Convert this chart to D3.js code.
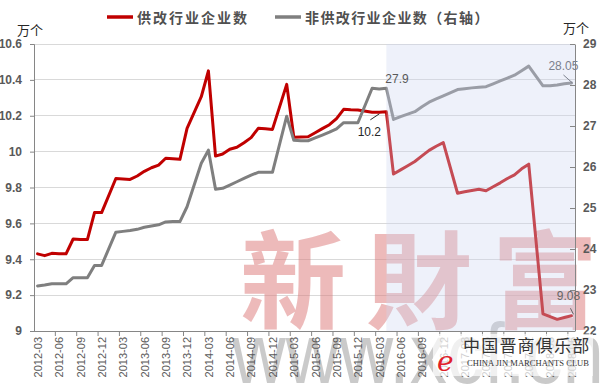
<!DOCTYPE html>
<html><head><meta charset="utf-8">
<script src="https://cdn.jsdelivr.net/npm/d3@7"></script>
<style>body{margin:0;background:#fff}svg{display:block}</style>
</head><body><svg id="c" width="602" height="386"></svg>
<script>
// ---- data ----
const months = [
"2012-03","2012-04","2012-05","2012-06","2012-07","2012-08","2012-09","2012-10","2012-11","2012-12",
"2013-01","2013-02","2013-03","2013-04","2013-05","2013-06","2013-07","2013-08","2013-09","2013-10","2013-11","2013-12",
"2014-01","2014-02","2014-03","2014-04","2014-05","2014-06","2014-07","2014-08","2014-09","2014-10","2014-11","2014-12",
"2015-01","2015-02","2015-03","2015-04","2015-05","2015-06","2015-07","2015-08","2015-09","2015-10","2015-11","2015-12",
"2016-01","2016-02","2016-03","2016-04","2016-05","2016-06","2016-07","2016-08","2016-09","2016-10","2016-11","2016-12",
"2017-01","2017-02","2017-03","2017-04","2017-05","2017-06","2017-07","2017-08","2017-09","2017-10","2017-11","2017-12",
"2018-01","2018-02","2018-03","2018-04","2018-05","2018-06"];
// 供改行业企业数 (万个, left axis); January not reported
const reformSeries = [9.43,9.42,9.433,9.43,9.43,9.513,9.51,9.51,9.66,9.66,
null,9.85,9.848,9.845,9.864,9.89,9.91,9.925,9.963,9.96,9.957,10.13,
null,10.306,10.45,9.975,9.987,10.013,10.024,10.05,10.078,10.13,10.127,10.124,
null,10.375,10.08,10.082,10.083,10.105,10.128,10.15,10.184,10.236,10.233,10.232,
null,10.22,10.22,10.222,9.875,9.898,9.921,9.945,9.976,10.007,10.03,10.05,
null,9.768,9.776,9.783,9.79,9.782,9.804,9.826,9.85,9.87,9.904,9.93,
null,9.095,9.08,9.065,9.075,9.085];
// 非供改行业企业数 (万个, right axis)
const nonReformSeries = [23.10,23.12,23.15,23.15,23.15,23.30,23.30,23.30,23.60,23.60,
null,24.41,24.43,24.45,24.48,24.53,24.56,24.59,24.66,24.67,24.67,25.03,
null,26.09,26.41,25.46,25.48,25.56,25.64,25.72,25.80,25.87,25.87,25.87,
null,27.24,26.65,26.64,26.64,26.71,26.78,26.85,26.93,27.08,27.08,27.08,
null,27.92,27.90,27.92,27.16,27.23,27.29,27.35,27.47,27.58,27.66,27.735,
null,27.89,27.91,27.93,27.945,27.96,28.03,28.10,28.17,28.24,28.35,28.46,
null,27.98,27.98,28.00,28.03,28.05];
const leftTicks = [9,9.2,9.4,9.6,9.8,10,10.2,10.4,10.6];
const rightTicks = [22,23,24,25,26,27,28,29];
const seriesNames = ["供改行业企业数","非供改行业企业数（右轴）"];
const unitText = "万个";
const shadeFrom = "2016-04";
const callouts = [
  {series:0, month:"2016-04", text:"10.2"},
  {series:1, month:"2016-04", text:"27.9"},
  {series:1, month:"2018-06", text:"28.05"},
  {series:0, month:"2018-06", text:"9.08"}
];
const watermarkText = "新財富";
const siteText = "www.xcf.cn";
const logoCn = "中国晋商俱乐部";
const logoEn = "CHINA JIN MARCHANTS CLUB";

// ---- layout ----
const L = 34, R = 575, T = 44, B = 331;
const RED = "#c00000", GREY = "#7f7f7f", AX = "#868686", TXT = "#595959";
const svg = d3.select("#c");
const x = d3.scaleBand().domain(months).range([L, R]);
const cx = m => x(m) + x.bandwidth() / 2;
const yL = d3.scaleLinear().domain([9, 10.6]).range([B, T]);
const yR = d3.scaleLinear().domain([22, 29]).range([B, T]);

// gridlines
svg.append("g").selectAll("line").data(leftTicks.filter(d => d > 9)).join("line")
  .attr("x1", L).attr("x2", R).attr("y1", d => yL(d)).attr("y2", d => yL(d))
  .attr("stroke", "#d9d9d9").attr("stroke-width", 1).attr("shape-rendering", "crispEdges");

// watermark
svg.append("text").text(watermarkText)
  .attr("x", 240).attr("y", 320)
  .attr("font-family", "'Noto Sans CJK TC'").attr("font-size", 106).attr("font-weight", "bold")
  .attr("letter-spacing", 20)
  .attr("fill", "#dc7878").attr("opacity", 0.5);
svg.append("text").text(siteText)
  .attr("x", 232).attr("y", 383)
  .attr("font-family", "'Liberation Sans'").attr("font-size", 86)
  .attr("textLength", 372).attr("lengthAdjust", "spacingAndGlyphs")
  .attr("fill", "#a8a8a8").attr("opacity", 0.6);

// lines
const seriesDefs = [
  {vals: reformSeries, y: yL, color: RED},
  {vals: nonReformSeries, y: yR, color: GREY}
];
const line = d3.line().x(d => cx(d.m));
seriesDefs.forEach(s => {
  const pts = months.map((m, i) => ({m, v: s.vals[i]})).filter(d => d.v != null);
  svg.append("path").datum(pts)
    .attr("d", line.y(d => s.y(d.v)))
    .attr("fill", "none").attr("stroke", s.color).attr("stroke-width", 3)
    .attr("stroke-linejoin", "round").attr("stroke-linecap", "round");
});

// shaded period overlay
svg.append("rect")
  .attr("x", cx(shadeFrom)).attr("y", T)
  .attr("width", R - cx(shadeFrom)).attr("height", B - T)
  .attr("fill", "rgb(205,215,240)").attr("opacity", 0.35);

// axes
const gL = svg.append("g").attr("transform", `translate(${L},0)`)
  .call(d3.axisLeft(yL).tickValues(leftTicks).tickSize(4).tickPadding(8).tickFormat(d3.format("")));
const gR = svg.append("g").attr("transform", `translate(${R},0)`)
  .call(d3.axisRight(yR).tickValues(rightTicks).tickSizeInner(-5).tickSizeOuter(0).tickPadding(8).tickFormat(d3.format("")));
[gL, gR].forEach(g => {
  g.select(".domain").attr("stroke", AX);
  g.selectAll(".tick line").attr("stroke", AX);
  g.selectAll("text").attr("font-family", "'Liberation Sans', Arial, sans-serif")
    .attr("font-size", 12).attr("font-weight", "bold").attr("fill", TXT);
});

const labelMonths = months.filter((m, i) => i % 3 === 0);
const gX = svg.append("g").attr("transform", `translate(0,${B})`)
  .call(d3.axisBottom(x).tickValues(labelMonths).tickSize(0).tickPadding(0));
gX.select(".domain").attr("stroke", AX).attr("d", `M${L},0.5H${R}`);
gX.selectAll(".tick text")
  .attr("transform", "rotate(-90)").attr("x", -6).attr("y", 0.5).attr("dy", "0.35em")
  .attr("text-anchor", "end")
  .attr("font-family", "'Liberation Sans', Arial, sans-serif").attr("font-size", 11).attr("fill", TXT);
svg.append("g").selectAll("line").data(labelMonths.slice(1)).join("line")
  .attr("x1", d => x(d)).attr("x2", d => x(d)).attr("y1", B).attr("y2", B + 5)
  .attr("stroke", AX);

// unit labels
svg.append("text").text(unitText).attr("x", 17).attr("y", 35)
  .attr("font-family", "'Noto Sans CJK SC'").attr("font-size", 13).attr("fill", "#262626");
svg.append("text").text(unitText).attr("x", 563).attr("y", 33)
  .attr("font-family", "'Noto Sans CJK SC'").attr("font-size", 13).attr("fill", "#262626");

// legend
const legendPos = [{x: 107, tx: 137}, {x: 275, tx: 305}];
seriesDefs.forEach((s, i) => {
  svg.append("line").attr("x1", legendPos[i].x).attr("x2", legendPos[i].x + 26)
    .attr("y1", 17).attr("y2", 17).attr("stroke", s.color).attr("stroke-width", 3.5);
  svg.append("text").text(seriesNames[i]).attr("x", legendPos[i].tx).attr("y", 22.5)
    .attr("font-family", "'Noto Sans CJK SC'").attr("font-size", 14).attr("font-weight", "bold")
    .attr("letter-spacing", i === 0 ? 2 : 1.4).attr("fill", "#505050");
});

// callouts
const calloutStyle = [
  {tx: -17, ty: 24, anchor: "middle", lead: [-7, 2, -16, 8], color: "#262626"},
  {tx: -1, ty: -5, anchor: "start", lead: null, color: "#595959"},
  {tx: -8, ty: -12.5, anchor: "middle", lead: [1, 0, -8, -8], color: "#7b808c"},
  {tx: -3, ty: -15.5, anchor: "middle", lead: [2, -1.5, -1, -7.5], color: "#666"}
];
callouts.forEach((c, k) => {
  const s = seriesDefs[c.series];
  const px = cx(c.month), py = s.y(s.vals[months.indexOf(c.month)]);
  const st = calloutStyle[k];
  if (st.lead) svg.append("line")
    .attr("x1", px + st.lead[0]).attr("y1", py + st.lead[1])
    .attr("x2", px + st.lead[2]).attr("y2", py + st.lead[3])
    .attr("stroke", st.color).attr("stroke-width", 1);
  svg.append("text").text(c.text).attr("x", px + st.tx).attr("y", py + st.ty)
    .attr("text-anchor", st.anchor)
    .attr("font-family", "'Liberation Sans', Arial, sans-serif").attr("font-size", 12).attr("fill", st.color);
});

// logo watermark
svg.append("rect").attr("x", 433).attr("y", 334).attr("width", 160).attr("height", 42)
  .attr("fill", "#fff").attr("opacity", 0.72);
svg.append("text").text("e").attr("x", 437).attr("y", 371)
  .attr("font-family", "'DejaVu Serif'").attr("font-style", "italic").attr("font-size", 28)
  .attr("fill", "#e0202a");
svg.append("text").text(logoCn).attr("x", 463).attr("y", 352)
  .attr("font-family", "'Noto Sans CJK SC'").attr("font-size", 17).attr("letter-spacing", 1.2)
  .attr("fill", "#333");
svg.append("text").text(logoEn).attr("x", 467).attr("y", 366)
  .attr("font-family", "'Liberation Serif'").attr("font-size", 9)
  .attr("textLength", 122).attr("lengthAdjust", "spacingAndGlyphs").attr("fill", "#333");
</script></body></html>
